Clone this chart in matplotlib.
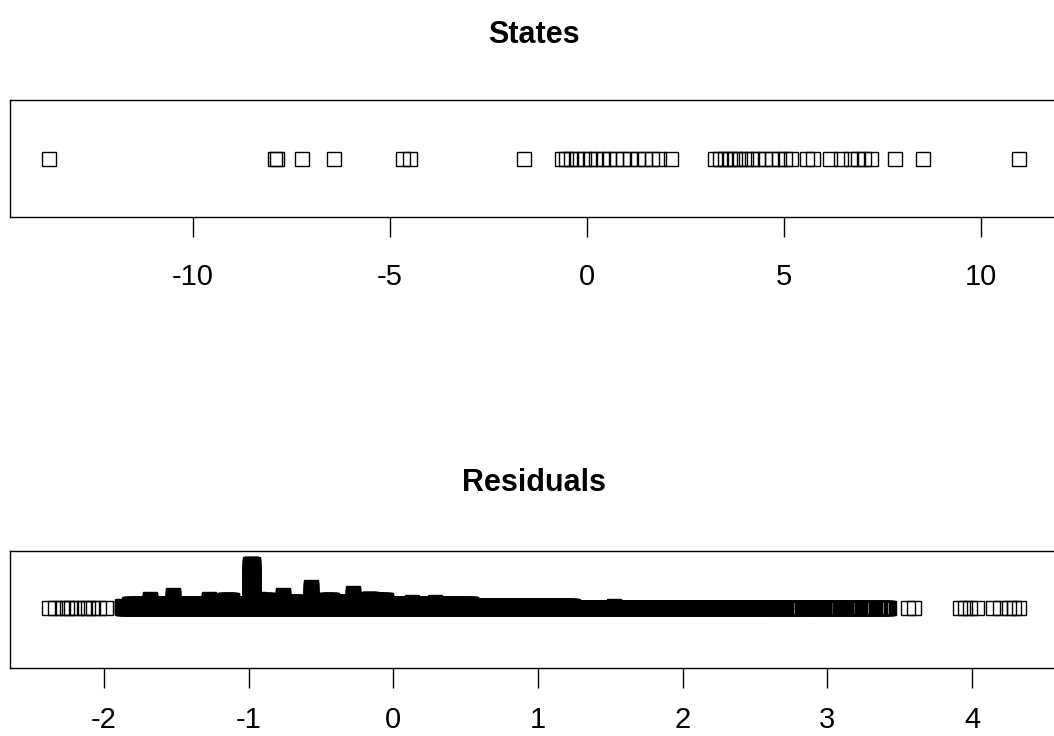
import numpy as np
import matplotlib
matplotlib.use("Agg")
import matplotlib.pyplot as plt
from matplotlib.markers import MarkerStyle

plt.rcParams['font.family'] = ['Liberation Sans', 'DejaVu Sans']

# ---- State effects (one value per state) ----
states = [
    -13.66, -7.92, -7.87, -7.22, -6.42, -4.66, -4.49, -1.60,
    -0.635, -0.534, -0.407, -0.254, -0.076, 0.076, 0.229, 0.407, 0.559,
    0.737, 0.915, 1.093, 1.296, 1.474, 1.652, 1.830, 2.135,
    3.253, 3.380, 3.507, 3.634, 3.761, 3.888, 4.041, 4.193, 4.346, 4.524,
    4.701, 4.879, 5.032, 5.184, 5.591, 5.743, 6.175, 6.455, 6.709, 6.887,
    7.039, 7.217, 7.814, 8.539, 10.978,
]
states_ticks = [-10, -5, 0, 5, 10]

# ---- Residuals ----
# isolated residuals in the tails
resid_single = [
    -2.381, -2.339, -2.291, -2.256, -2.228, -2.187, -2.138, -2.111, -2.076,
    -2.035, -1.986,
    3.557, 3.599, 3.917, 3.952, 3.986, 4.035, 4.145, 4.194, 4.256, 4.291, 4.325,
]
# bulk of residuals, recorded at a precision of 0.005: every recorded value
# between lo and hi occurs `ties` times
resid_precision = 0.005
resid_lo = [
    -1.875, 2.636, 2.730, 2.823, 2.989, 3.086, 3.141, 3.238, 3.272, 3.339, 3.374,
    -1.875, -1.827, 0.540, -1.682, -1.526, -1.270, -1.170, -0.990, -0.927,
    -0.907, -0.758, -0.713, -0.571, -0.471, -0.422, -0.277, -0.173, -0.118,
    0.128, 0.287, 1.526,
]
resid_hi = [
    2.624, 2.716, 2.811, 2.977, 3.074, 3.129, 3.226, 3.260, 3.325, 3.360, 3.427,
    -1.875, 0.540, 1.239, -1.682, -1.526, -1.270, -1.114, -0.969, -0.927,
    -0.858, -0.758, -0.644, -0.571, -0.422, -0.325, -0.277, -0.152, -0.048,
    0.128, 0.287, 1.526,
]
resid_ties = [
    1, 1, 1, 1, 1, 1, 1, 1, 1, 1, 1,
    3, 5, 3, 10, 14, 10, 9, 45, 10,
    9, 14, 7, 22, 9, 7, 16, 10, 9,
    7, 7, 3,
]
resid_ticks = [-2, -1, 0, 1, 2, 3, 4]

# count of each distinct recorded residual value
counts = {}
for lo, hi, n in zip(resid_lo, resid_hi, resid_ties):
    i0 = int(round(lo / resid_precision))
    i1 = int(round(hi / resid_precision))
    for i in range(i0, i1 + 1):
        counts[i] = max(counts.get(i, 0), n)
for v in resid_single:
    i = int(round(v / resid_precision))
    counts[i] = max(counts.get(i, 0), 1)

W, H = 1054, 736
fig = plt.figure(figsize=(W / 100, H / 100), dpi=100)

left = 10 / W
width = 1048 / W
ax_h = 117 / H

ax1 = fig.add_axes([left, 1 - 217 / H, width, ax_h])
ax2 = fig.add_axes([left, 1 - 668 / H, width, ax_h])

square = MarkerStyle('s', fillstyle='none', joinstyle='miter')
mk = dict(marker=square, linestyle='none', markersize=9.4,
          markeredgecolor='black', markeredgewidth=1.0)


def rlim(vals):
    lo, hi = min(vals), max(vals)
    pad = 0.04 * (hi - lo)
    return lo - pad, hi + pad


# top strip: plain overplot
ax1.plot(states, np.zeros(len(states)), **mk)
ax1.set_xlim(*rlim(states))
ax1.set_ylim(-58.5, 58.5)
ax1.set_xticks(states_ticks)
ax1.set_xticklabels([str(t) for t in states_ticks])

# bottom strip: stacked points, one pixel up per repeated value
step = 1.0
base = 1.5
xs, ys = [], []
for i in sorted(counts):
    v = i * resid_precision
    for k in range(counts[i]):
        xs.append(v)
        ys.append(base + k * step)
ax2.plot(xs, ys, **mk)
all_resid = [i * resid_precision for i in counts]
ax2.set_xlim(*rlim(all_resid))
ax2.set_ylim(-58.5, 58.5)
ax2.set_xticks(resid_ticks)
ax2.set_xticklabels([str(t) for t in resid_ticks])

for ax, pad in ((ax1, 19), (ax2, 13)):
    ax.set_yticks([])
    for s in ax.spines.values():
        s.set_linewidth(1.0)
        s.set_color('black')
    ax.tick_params(axis='x', direction='out', length=14.4, width=1.0,
                   pad=pad, labelsize=21, colors='black')

fig.text((10 + 1058) / 2 / W, 1 - 35 / H, 'States', ha='center', va='center',
         fontsize=22, fontweight='bold')
fig.text((10 + 1058) / 2 / W, 1 - 483 / H, 'Residuals', ha='center', va='center',
         fontsize=22, fontweight='bold')

fig.savefig('out.png', dpi=100)
